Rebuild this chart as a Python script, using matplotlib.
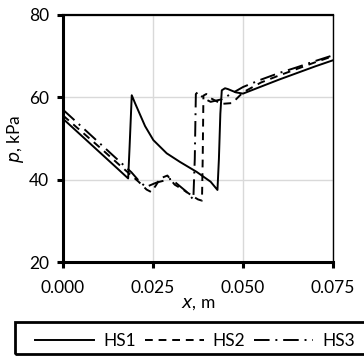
import matplotlib.pyplot as plt
from matplotlib.patches import Rectangle
import numpy as np

plt.rcParams['font.family'] = ['Lato', 'DejaVu Sans']

# HS1 (solid)
x_hs1 = [0.0, 0.005, 0.010, 0.015, 0.0181, 0.0185, 0.0191, 0.0200, 0.0212, 0.0228,
         0.0251, 0.0288, 0.0325, 0.0371, 0.0410, 0.0429, 0.0433, 0.0437, 0.0441,
         0.0450, 0.0458, 0.048, 0.050, 0.055, 0.060, 0.065, 0.070, 0.075]
p_hs1 = [54.8, 50.8, 46.8, 42.8, 40.3, 48.0, 60.5, 58.6, 56.2, 53.0,
         49.6, 46.4, 44.3, 41.9, 39.5, 37.5, 45.0, 56.0, 61.7,
         62.2, 62.0, 61.2, 60.9, 62.6, 64.3, 65.9, 67.5, 69.0]

# HS2 (dashed)
x_hs2 = [0.0, 0.005, 0.010, 0.015, 0.0185, 0.021, 0.0232, 0.0245, 0.0258, 0.027,
         0.029, 0.031, 0.034, 0.036, 0.0375, 0.0386, 0.0388, 0.0390, 0.0398, 0.0410,
         0.044, 0.047, 0.050, 0.055, 0.060, 0.065, 0.070, 0.075]
p_hs2 = [55.6, 51.8, 48.0, 44.1, 41.4, 39.5, 37.6, 37.0, 38.6, 40.3,
         41.0, 38.8, 37.2, 36.0, 35.2, 34.9, 45.0, 60.4, 60.8, 59.8,
         58.4, 58.6, 61.2, 63.6, 65.3, 66.9, 68.5, 70.0]

# HS3 (dash-dot)
x_hs3 = [0.0, 0.005, 0.010, 0.015, 0.019, 0.021, 0.023, 0.026, 0.030, 0.034,
         0.0362, 0.0366, 0.0369, 0.0375, 0.039, 0.041, 0.044, 0.047, 0.050, 0.055,
         0.060, 0.065, 0.070, 0.075]
p_hs3 = [57.0, 53.0, 49.0, 45.0, 41.8, 39.8, 38.2, 39.3, 40.2, 37.3,
         35.2, 45.0, 60.8, 61.3, 59.8, 58.9, 59.5, 61.0, 62.5, 64.3,
         65.9, 67.3, 68.8, 70.2]

x_ticks = [0.0, 0.025, 0.050, 0.075]
y_ticks = [20, 40, 60, 80]

W, H = 364, 356
fig = plt.figure(figsize=(W / 100, H / 100), dpi=100)
ax = fig.add_axes([0.173, 0.264, 0.742, 0.694])

ax.plot(x_hs1, p_hs1, color='black', lw=1.4, label='HS1')
ax.plot(x_hs2, p_hs2, color='black', lw=1.4, ls=(0, (4, 3)), label='HS2')
ax.plot(x_hs3, p_hs3, color='black', lw=1.4, ls=(0, (8, 3, 1, 3)), label='HS3')

ax.set_xlim(0, 0.075)
ax.set_ylim(20, 80)
ax.set_xticks(x_ticks)
ax.set_xticklabels(['%.3f' % v for v in x_ticks])
ax.set_yticks(y_ticks)
ax.grid(True, color='#d9d9d9', lw=1)
ax.set_axisbelow(True)

ax.spines['left'].set_linewidth(2.2)
ax.spines['bottom'].set_linewidth(2.2)
ax.spines['top'].set_linewidth(1.6)
ax.spines['right'].set_linewidth(1.0)
ax.tick_params(axis='both', direction='out', length=4, width=2.2,
               labelsize=12.5, colors='black')
ax.tick_params(axis='x', pad=9)
ax.tick_params(axis='y', pad=6)

ax.set_xlabel('$x$, m', fontsize=12.5, labelpad=0)
ax.set_ylabel('$p$, kPa', fontsize=12.5, labelpad=2)

# legend frame drawn separately so the entries can sit inside it with a margin
fig.patches.append(Rectangle((15 / W, 2 / H), 352 / W, 32 / H, transform=fig.transFigure,
                             fill=False, edgecolor='black', lw=2.0))
leg = fig.legend(loc='lower left', bbox_to_anchor=(30 / W, 2 / H, 330 / W, 32 / H),
                 mode='expand', ncol=3, fontsize=12.5, handlelength=3.4,
                 frameon=False, borderaxespad=0.0,
                 handletextpad=0.5, columnspacing=1.2, borderpad=0.3)

fig.savefig('out.png', dpi=100)
